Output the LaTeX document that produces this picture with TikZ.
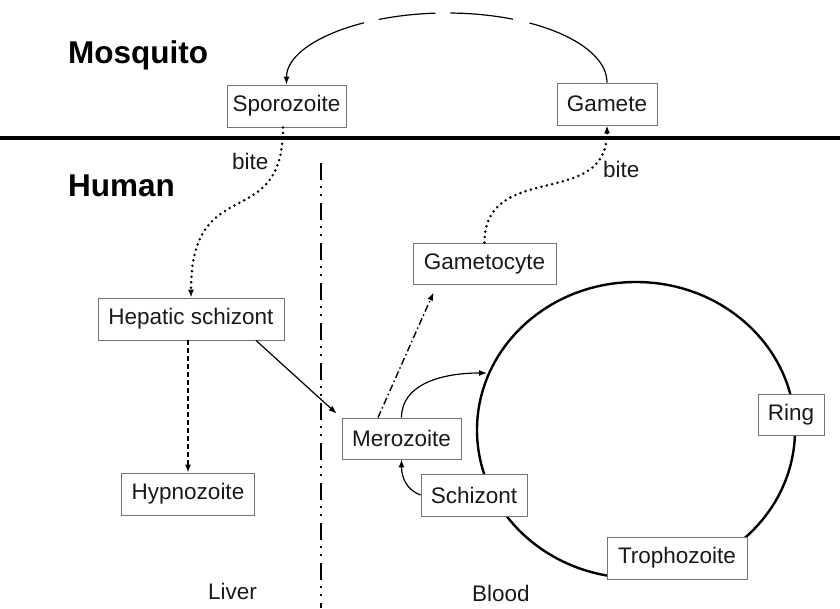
\documentclass[tikz,border=0pt]{standalone}
\usepackage{fontspec}
\setmainfont{Liberation Sans}
\usetikzlibrary{arrows.meta}
\begin{document}
\begin{tikzpicture}[x=1pt,y=-1pt,
  box/.style={draw=black!55, line width=0.9pt, fill=white, inner sep=0pt,
    minimum height=42pt, font=\fontsize{22.5}{27}\selectfont, text=black!90},
  lbl/.style={font=\fontsize{22.5}{27}\selectfont, inner sep=0pt, anchor=base west, text=black!90},
  big/.style={font=\fontsize{31.5}{36}\bfseries\selectfont, inner sep=0pt, anchor=base west},
  tip/.style={-{Latex[length=8pt,width=6pt]}},
  conn/.style={tip, line width=1.2pt},
  dotline/.style={tip, line width=2.8pt, line cap=round, dash pattern=on 0pt off 5.5pt},
  dashline/.style={tip, line width=1.4pt, dash pattern=on 5pt off 3pt},
  dashdotline/.style={tip, line width=1.4pt, dash pattern=on 7pt off 3pt on 1.5pt off 3pt},
]
\useasboundingbox (0,0) rectangle (840,608);

% separators
\coordinate (hl) at (0,138);
\coordinate (hr) at (840,138);
\draw[line width=3.5pt] (hl) -- (hr);
\coordinate (vt) at (321,163);
\coordinate (vb) at (321,608);
\draw[line width=2.4pt, dash pattern=on 17pt off 6pt on 2pt off 6pt on 2pt off 7pt] (vt) -- (vb);

% blood cycle
\draw[line width=2.4pt] (636,430) ellipse [x radius=159pt, y radius=148pt];

% titles and labels
\node[big] (mosq) at (68,63) {Mosquito};
\node[big] (human) at (68,196) {Human};
\node[lbl] (bite1) at (232,169) {bite};
\node[lbl] (bite2) at (603,177) {bite};
\node[lbl] (liver) at (208,599) {Liver};
\node[lbl] (blood) at (472,601) {Blood};

% boxes
\node[box, minimum width=119pt] (spor) at (286.5,106) {Sporozoite};
\node[box, minimum width=100pt] (gamete) at (607,104) {Gamete};
\node[box, minimum width=186pt] (hep) at (191,319) {Hepatic schizont};
\node[box, minimum width=133pt] (hyp) at (188,494) {Hypnozoite};
\node[box, minimum width=119pt, minimum height=41pt] (mero) at (401.5,438.5) {Merozoite};
\node[box, minimum width=143pt, minimum height=41pt] (gcyte) at (484.5,263.5) {Gametocyte};
\node[box, minimum width=106pt] (schiz) at (474,495) {Schizont};
\node[box, minimum width=66pt, minimum height=41pt] (ring) at (791,414.5) {Ring};
\node[box, minimum width=140pt] (troph) at (677,558) {Trophozoite};

% mosquito arc
\draw[conn, dash pattern=on 104pt off 17pt on 63pt off 15pt on 57pt off 15pt on 300pt off 1pt]
  (gamete.north) .. controls (607,44.3) and (535.3,13) .. (446.75,13)
  .. controls (358.2,13) and (286.5,44.3) .. (spor.north);

% bites
\draw[dotline] ([xshift=-3.5pt]spor.south) .. controls (283,235) and (191,170) .. (hep.north);
\draw[dotline] (gcyte.north) .. controls (485,160) and (607,210) .. (gamete.south);

% liver
\draw[dashline] (hep.south -| hyp.north) -- (hyp.north);
\draw[conn] ([xshift=65pt]hep.south) -- ([shift={(-5,-4)}]mero.north west);

% blood
\draw[dashdotline] ([xshift=-23.5pt]mero.north) -- ([shift={(21,8)}]gcyte.south west);
\coordinate (ein) at (487,373);
\draw[conn] (mero.north) .. controls (401.5,385) and (440,373) .. (ein);
\draw[conn] (schiz.west) .. controls (407,490) and (401.5,478) .. (mero.south);
\end{tikzpicture}
\end{document}
